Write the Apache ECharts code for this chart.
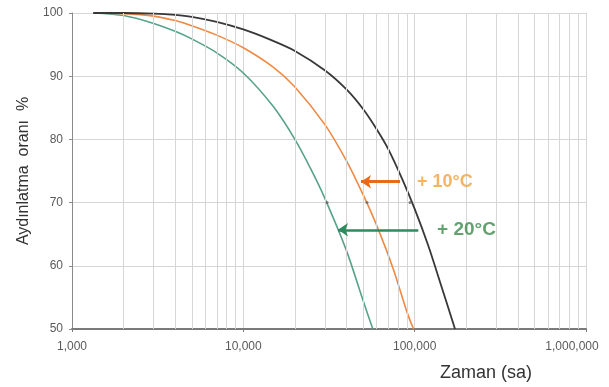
<!DOCTYPE html>
<html>
<head>
<meta charset="utf-8">
<script src="https://cdn.jsdelivr.net/npm/echarts@6/dist/echarts.min.js"></script>
<style>
html,body{margin:0;padding:0;background:#fff;}
#chart{width:609px;height:387px;}
</style>
</head>
<body>
<div id="chart"></div>
<script>
// Time (hours) and light output (%) for each curve
var timeBlack = [1330, 2000, 3000, 4000, 5000, 7000, 10000, 14000, 20000, 30000, 40000, 50000, 60000, 70000, 85000, 100000, 120000, 140000, 172000];
var valBlack  = [100, 100, 99.9, 99.7, 99.4, 98.6, 97.4, 95.9, 94.0, 90.9, 87.9, 84.8, 81.6, 78.5, 73.6, 69.0, 63.2, 57.6, 50];
var timeOrange = [1330, 2000, 3000, 4000, 5000, 7000, 10000, 15000, 20000, 30000, 40000, 50000, 60000, 75000, 90000, 98500];
var valOrange  = [100, 99.9, 99.5, 98.8, 98.0, 96.5, 94.5, 91.4, 88.3, 82.3, 76.6, 71.25, 66.4, 59.5, 52.75, 50];
var timeGreen = [1330, 2000, 3000, 4000, 5000, 7000, 10000, 15000, 20000, 25000, 30000, 40000, 50000, 57000];
var valGreen  = [100, 99.6, 98.35, 97.1, 95.9, 93.7, 90.5, 85.15, 80, 75.1, 70.6, 62.4, 54.5, 50];
// small marks at 70 %
var markTimes = [30800, 52700, 94000];
var markVal = 70;
// arrows
var arrow10 = {from: 82200, to: 48600, level: 73.3, label: '+ 10°C', labelAt: 103300};
var arrow20 = {from: 105000, to: 35700, level: 65.7, label: '+ 20°C', labelAt: 135200};
// axis ticks
var xMin = 1000, xMax = 1000000;
var yMin = 50, yMax = 100, yStep = 10;
var minorGrid = [2000,3000,4000,5000,6000,7000,8000,9000,
                 20000,30000,40000,50000,60000,70000,80000,90000,
                 200000,300000,400000,500000,600000,700000,800000,900000];

function pairs(t, v){ return t.map(function(x,i){ return [x, v[i]]; }); }

var chart = echarts.init(document.getElementById('chart'), null, {renderer:'canvas'});
var gridColor = '#d6d6d6';
var font = 'Liberation Sans, Arial';
var option = {
  animation: false,
  backgroundColor: '#ffffff',
  grid: {left: 72, right: 23, top: 13, bottom: 58, containLabel: false, outerBoundsMode: 'none'},
  xAxis: {
    type: 'log', logBase: 10, min: xMin, max: xMax,
    name: 'Zaman (sa)', nameLocation: 'middle', nameGap: 35,
    nameTextStyle: {fontFamily: font, fontSize: 18, color: '#333', padding: [0,0,0,314]},
    axisLine: {show: true, lineStyle: {color: '#7a7a7a', width: 2}},
    axisTick: {show: true, length: 3, lineStyle: {color: '#7a7a7a'}},
    axisLabel: {fontFamily: font, fontSize: 12, color: '#5a5a5a', margin: 12,
      formatter: function(v){
        var s = Number(v).toLocaleString('en-US');
        return Math.round(v) === xMax ? '{last|' + s + '}' : s;
      },
      rich: {last: {fontFamily: font, fontSize: 12, color: '#5a5a5a', padding: [0, 28, 0, 0]}}},
    splitLine: {show: true, lineStyle: {color: gridColor, width: 1}},
    minorTick: {show: false}
  },
  yAxis: {
    type: 'value', min: yMin, max: yMax, interval: yStep,
    name: 'Aydınlatma  oranı  %', nameLocation: 'middle', nameGap: 26, nameRotate: 90,
    nameTextStyle: {fontFamily: font, fontSize: 16, color: '#333'},
    axisLine: {show: true, lineStyle: {color: '#8a8a8a', width: 1}},
    axisTick: {show: true, length: 3, lineStyle: {color: '#8a8a8a'}},
    axisLabel: {fontFamily: font, fontSize: 12, color: '#5a5a5a', margin: 9},
    splitLine: {show: true, lineStyle: {color: gridColor, width: 1}}
  },
  series: [
    {
      type: 'line', data: [], silent: true,
      markLine: {
        silent: true, symbol: ['none','none'], label: {show: false},
        lineStyle: {color: gridColor, width: 1, type: 'solid'},
        data: minorGrid.map(function(x){ return {xAxis: x}; })
      }
    },
    {type: 'line', data: pairs(timeGreen, valGreen), smooth: 0.25, symbol: 'none',
     lineStyle: {color: '#58a28c', width: 1.6}},
    {type: 'line', data: pairs(timeOrange, valOrange), smooth: 0.25, symbol: 'none',
     lineStyle: {color: '#ee8a45', width: 1.6}},
    {type: 'line', data: pairs(timeBlack, valBlack), smooth: 0.25, symbol: 'none',
     lineStyle: {color: '#383838', width: 1.8}},
    {type: 'scatter', symbol: 'circle', symbolSize: 3, itemStyle: {color: '#666'},
     data: markTimes.map(function(t){ return [t, markVal]; }), z: 5},
    {type: 'lines', coordinateSystem: 'cartesian2d', symbol: ['none','arrow'], symbolSize: 10,
     lineStyle: {color: '#e56b1f', width: 3, opacity: 1},
     data: [{coords: [[arrow10.from, arrow10.level],[arrow10.to, arrow10.level]]}], z: 6},
    {type: 'lines', coordinateSystem: 'cartesian2d', symbol: ['none','arrow'], symbolSize: 10,
     lineStyle: {color: '#2f8a5e', width: 2.5, opacity: 1},
     data: [{coords: [[arrow20.from, arrow20.level],[arrow20.to, arrow20.level]]}], z: 6},
    {type: 'scatter', symbolSize: 0, silent: true, z: 7,
     data: [
       {value: [arrow10.labelAt, arrow10.level], label: {formatter: arrow10.label, color: '#f0a33c', fontSize: 18}},
       {value: [arrow20.labelAt, arrow20.level], label: {formatter: arrow20.label, color: '#3b8a4c', fontSize: 19}}
     ],
     label: {show: true, position: 'right', distance: 0, fontFamily: font,
             fontWeight: 'bold', fontSize: 18}}
  ]
};
chart.setOption(option);
</script>
</body>
</html>
